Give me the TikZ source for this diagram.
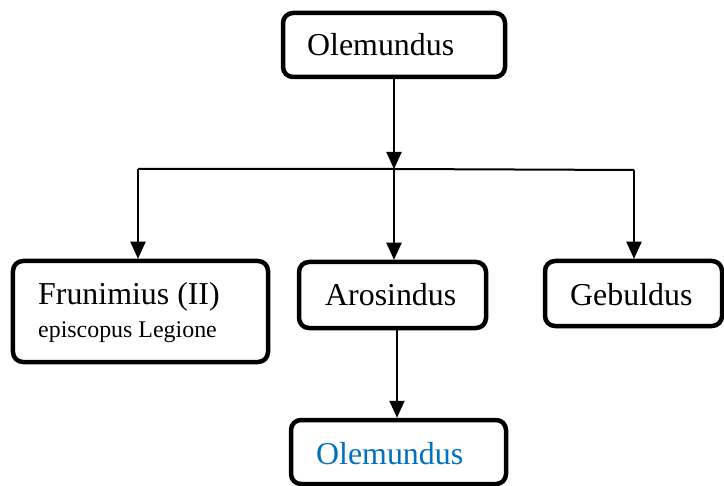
\documentclass[tikz,border=0pt]{standalone}
\usepackage{fontspec}
\setmainfont{Liberation Serif}
\usetikzlibrary{arrows.meta}
\definecolor{olblue}{HTML}{0070C0}
\begin{document}
\begin{tikzpicture}[x=1bp,y=-1bp,
  box/.style={draw, line width=4.5bp, rounded corners=10bp, inner sep=0pt, fill=white},
  lbl/.style={inner sep=0pt, anchor=base west, font=\fontsize{32}{36}\selectfont},
  small/.style={inner sep=0pt, anchor=base west, font=\fontsize{24}{28}\selectfont},
  conn/.style={line width=2bp, -{Triangle[width=15bp,length=17bp]}},
  plain/.style={line width=2bp}]
\useasboundingbox (0,0) rectangle (724,486);
% boxes
\node[box, minimum width=222bp, minimum height=64bp] (top) at (394,45) {};
\node[box, minimum width=255bp, minimum height=101bp] (frun) at (140.5,311.5) {};
\node[box, minimum width=187bp, minimum height=66bp] (aros) at (392.5,295) {};
\node[box, minimum width=177bp, minimum height=65bp] (gebu) at (633.5,293.5) {};
\node[box, minimum width=215bp, minimum height=64bp] (bot) at (398.5,452) {};
% texts
\node[lbl] (ttop) at (307,56) {Olemundus};
\node[lbl] (tfrun) at (38,304) {Frunimius (II)};
\node[small] (tepi) at (38,337) {episcopus Legione};
\node[lbl] (taros) at (325,305.5) {Arosindus};
\node[lbl] (tgebu) at (570,305) {Gebuldus};
\node[lbl, text=olblue] (tbot) at (316,464) {Olemundus};
% connectors
\coordinate (j) at (394,169);
\coordinate (jl) at (138,169);
\coordinate (jr) at (634,170);
\coordinate (ab) at (397,0);
\draw[conn] (top.south) -- (j);
\draw[plain] (jl) -- (j) -- (jr);
\draw[conn] (jl) -- (jl |- frun.north);
\draw[conn] (j) -- (j |- aros.north);
\draw[conn] (jr) -- (jr |- gebu.north);
\draw[conn] (ab |- aros.south) -- (ab |- bot.north);
\end{tikzpicture}
\end{document}
